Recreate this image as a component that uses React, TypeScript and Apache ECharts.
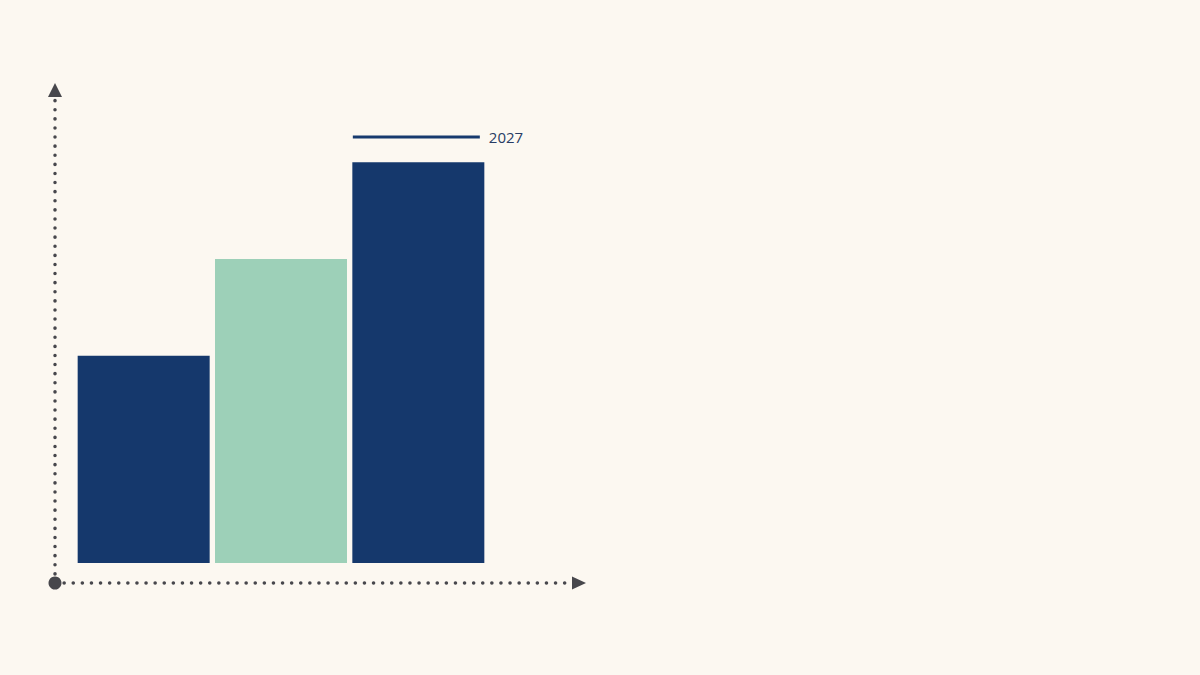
import React, { useEffect, useRef } from 'react'
import * as echarts from 'echarts'

const categories = ['2025', '2026', '2027']
const barValues = [51.8, 76, 100.2]
const barColors = ['#15386c', '#9dd0b8', '#15386c']
const markerCategory = '2027'
const markerValue = 106.5
const markerLabel = '2027'

export default function App() {
  const ref = useRef<HTMLDivElement | null>(null)

  useEffect(() => {
    if (!ref.current) return
    document.body.style.margin = '0'
    const chart = echarts.init(ref.current, null, { renderer: 'svg' })

    const dotted = { color: '#47474c', width: 3.5, type: [0.1, 9], cap: 'round' as const }

    const opt: echarts.EChartsOption = {
      animation: false,
      backgroundColor: '#fcf8f1',
      grid: [
        // axes frame
        { left: 55, top: 90, right: 621, bottom: 92 },
        // bars
        { left: 75, top: 90, right: 713, bottom: 92 }
      ],
      xAxis: [
        {
          gridIndex: 0, type: 'value', min: 0, max: 1,
          axisLine: { show: true, onZero: false, symbol: ['circle', 'triangle'], symbolSize: [13, 14], lineStyle: dotted },
          axisTick: { show: false }, axisLabel: { show: false }, splitLine: { show: false }
        },
        {
          gridIndex: 1, type: 'category', data: categories,
          axisLine: { show: false }, axisTick: { show: false }, axisLabel: { show: false }
        }
      ],
      yAxis: [
        {
          gridIndex: 0, type: 'value', min: 0, max: 1,
          axisLine: { show: true, onZero: false, symbol: ['none', 'triangle'], symbolSize: [14, 14], lineStyle: dotted },
          axisTick: { show: false }, axisLabel: { show: false }, splitLine: { show: false }
        },
        {
          gridIndex: 1, type: 'value', min: -5, max: 118.25,
          axisLine: { show: false }, axisTick: { show: false }, axisLabel: { show: false }, splitLine: { show: false }
        }
      ],
      series: [
        {
          type: 'bar',
          xAxisIndex: 1,
          yAxisIndex: 1,
          barWidth: 132,
          data: barValues.map((v, i) => ({ value: v, itemStyle: { color: barColors[i] } }))
        },
        {
          type: 'scatter',
          xAxisIndex: 1,
          yAxisIndex: 1,
          symbol: 'rect',
          symbolSize: [127, 3],
          symbolOffset: [-2, 0],
          itemStyle: { color: '#173a6e', opacity: 1 },
          label: {
            show: true,
            position: 'right',
            distance: 9,
            formatter: markerLabel,
            color: '#283c64',
            fontSize: 15,
            fontFamily: 'Open Sans'
          },
          data: [[markerCategory, markerValue]]
        }
      ]
    }

    chart.setOption(opt)
    return () => { chart.dispose() }
  }, [])

  return <div ref={ref} style={{ width: 1200, height: 675 }} />
}
